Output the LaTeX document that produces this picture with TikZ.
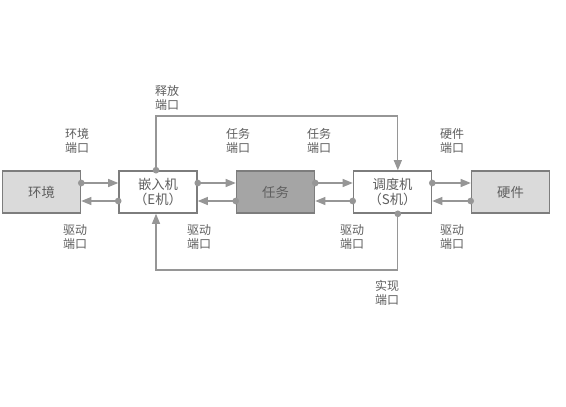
\documentclass[tikz,border=0pt]{standalone}
\usepackage{fontspec}
\newfontfamily\cjk{Noto Sans CJK SC}
\usetikzlibrary{arrows.meta}
\definecolor{txt}{RGB}{95,95,95}
\definecolor{ln}{RGB}{150,150,150}
\definecolor{bd}{RGB}{125,125,125}
\definecolor{lightf}{RGB}{218,218,218}
\definecolor{darkf}{RGB}{165,165,165}
\tikzset{
  blk/.style={draw=bd, line width=1.2pt, minimum width=58.5pt, minimum height=31.5pt, inner sep=0pt, align=center, font=\cjk\fontsize{10}{11.5}\selectfont, text=txt},
  lbl/.style={align=center, font=\cjk\fontsize{9}{11}\selectfont, text=txt, inner sep=0pt},
  con/.style={draw=ln, line width=0.8pt, -{Triangle[length=7.5pt,width=6pt,fill=ln]}},
  dot/.style={circle, fill=ln, inner sep=0pt, minimum size=5pt}
}
\begin{document}
\begin{tikzpicture}[x=0.75pt,y=-0.75pt]
\useasboundingbox[fill=white] (0,0) rectangle (566,406);
\node[blk, fill=lightf] (env) at (41.5,192) {环境};
\node[blk, fill=white] (E) at (158,192) {嵌入机\\（E机）};
\node[blk, fill=darkf] (task) at (275.5,192) {任务};
\node[blk, fill=white] (S) at (392.5,192) {调度机\\（S机）};
\node[blk, fill=lightf] (hw) at (510.5,192) {硬件};

\foreach \a/\b in {env/E, E/task, task/S, S/hw}{
  \draw[con] ([yshift=6.75pt]\a.east) -- ([yshift=6.75pt]\b.west);
  \node[dot] at ([yshift=6.75pt]\a.east) {};
  \draw[con] ([yshift=-6.75pt]\b.west) -- ([yshift=-6.75pt]\a.east);
  \node[dot] at ([yshift=-6.75pt]\b.west) {};
}

% top loop
\coordinate (Etop) at ([xshift=-1.5pt]E.north);
\coordinate (Stop) at ([xshift=4pt]S.north);
\draw[con] (Etop) -- (Etop |- 0,116) -| (Stop);
\node[dot] at (Etop) {};
% bottom loop
\coordinate (Sbot) at ([xshift=4pt]S.south);
\coordinate (Ebot) at ([xshift=-1.5pt]E.south);
\draw[con] (Sbot) -- (Sbot |- 0,270) -| (Ebot);
\node[dot] at (Sbot) {};

% labels
\node[lbl] (l1) at (167,98) {释放\\端口};
\node[lbl] (l2) at (77,141) {环境\\端口};
\node[lbl] (l3) at (238,141) {任务\\端口};
\node[lbl] (l4) at (319,141) {任务\\端口};
\node[lbl] (l5) at (452,141) {硬件\\端口};
\node[lbl] (l6) at (75,237) {驱动\\端口};
\node[lbl] (l7) at (199,237) {驱动\\端口};
\node[lbl] (l8) at (352,237) {驱动\\端口};
\node[lbl] (l9) at (452,237) {驱动\\端口};
\node[lbl] (l10) at (387,293) {实现\\端口};
\end{tikzpicture}
\end{document}
